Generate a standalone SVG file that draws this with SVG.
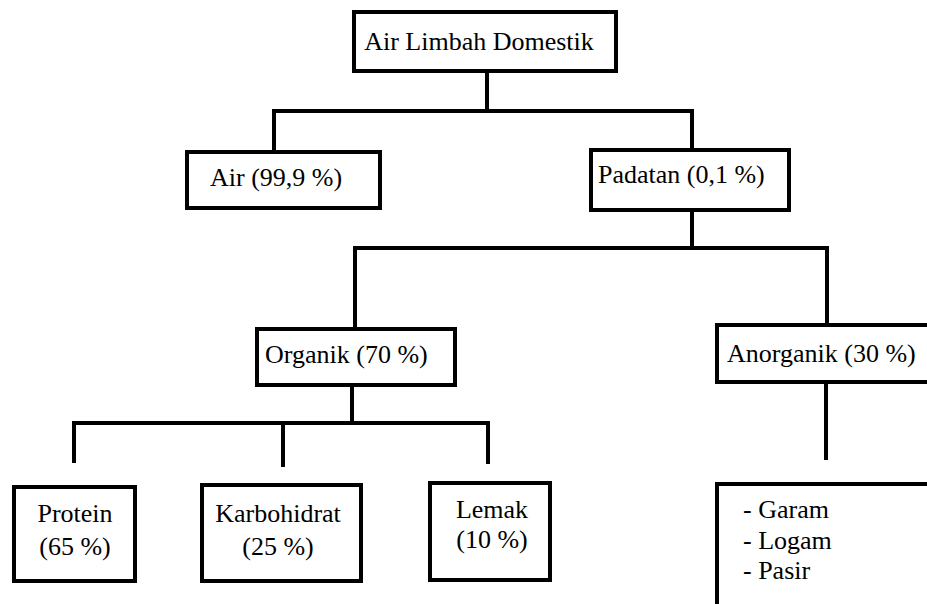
<svg xmlns="http://www.w3.org/2000/svg" width="927" height="604" viewBox="0 0 927 604">
<style>
.box{fill:#fff;stroke:#000;stroke-width:4}
.ln{fill:none;stroke:#000;stroke-width:4;stroke-linecap:square;stroke-linejoin:miter}
.t{font-family:'Liberation Serif','DejaVu Serif',serif;font-size:26px;fill:#000}
.m{text-anchor:middle}
</style>
<rect width="927" height="604" fill="#fff"/>
<g id="connectors">
<path class="ln" d="M487,73 V111"/>
<path class="ln" d="M274,150 V111 H692 V148"/>
<path class="ln" d="M692,212 V248"/>
<path class="ln" d="M355,327 V248 H827 V323"/>
<path class="ln" d="M352,387 V423"/>
<path class="ln" d="M74,461 V423 H488 V462"/>
<path class="ln" d="M283,423 V465"/>
<path class="ln" d="M826,384 V458"/>
</g>
<g class="t" font-family="Liberation Serif, DejaVu Serif, serif">
<g id="air-limbah-domestik">
<rect class="box" x="354" y="12" width="262" height="59"/>
<text class="m" x="479" y="50">Air Limbah Domestik</text>
</g>
<g id="air">
<rect class="box" x="187" y="152" width="193" height="56"/>
<text x="210" y="186">Air (99,9 %)</text>
</g>
<g id="padatan">
<rect class="box" x="591" y="150" width="198" height="60"/>
<text x="598" y="183">Padatan (0,1 %)</text>
</g>
<g id="organik">
<rect class="box" x="257" y="329" width="198" height="56"/>
<text x="265" y="363">Organik (70 %)</text>
</g>
<g id="anorganik">
<rect class="box" x="717" y="325" width="230" height="57"/>
<text x="727" y="362">Anorganik (30 %)</text>
</g>
<g id="protein">
<rect class="box" x="14" y="487" width="121" height="94"/>
<text class="m" x="75" y="522">Protein</text>
<text class="m" x="75" y="555">(65 %)</text>
</g>
<g id="karbohidrat">
<rect class="box" x="202" y="485" width="159" height="96"/>
<text class="m" x="278" y="522">Karbohidrat</text>
<text class="m" x="278" y="555">(25 %)</text>
</g>
<g id="lemak">
<rect class="box" x="430" y="483" width="120" height="97"/>
<text class="m" x="492" y="518">Lemak</text>
<text class="m" x="492" y="548">(10 %)</text>
</g>
<g id="anorganik-items">
<rect class="box" x="717" y="484" width="230" height="140"/>
<text x="743" y="518">- Garam</text>
<text x="743" y="549">- Logam</text>
<text x="743" y="579">- Pasir</text>
</g>
</g>
</svg>
